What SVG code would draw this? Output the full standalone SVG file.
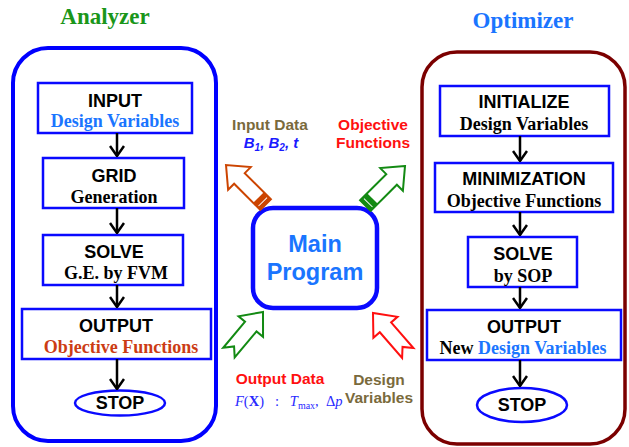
<svg xmlns="http://www.w3.org/2000/svg" width="629" height="447" viewBox="0 0 629 447">
  <defs>
    <style>
      .sans { font-family: "Liberation Sans", Arial, sans-serif; font-weight: bold; }
      .serif { font-family: "Liberation Serif", "Times New Roman", serif; font-weight: bold; }
      .step { fill: #ffffff; stroke: #0a0aff; stroke-width: 2.5; }
      .head { font-size: 18px; fill: #000000; text-anchor: middle; }
      .sub { font-size: 18px; fill: #000000; text-anchor: middle; }
      .flow { stroke: #000000; stroke-width: 2.5; fill: none; marker-end: url(#chev); }
      .lbl { font-size: 15.5px; text-anchor: middle; }
    </style>
    <marker id="chev" viewBox="0 0 12 16" refX="11" refY="8" markerWidth="12" markerHeight="16" markerUnits="userSpaceOnUse" orient="auto">
      <path d="M1,1 L11,8 L1,15" fill="none" stroke="#000000" stroke-width="2.5"/>
    </marker>
    <!-- hollow arrow with banded tail, tip at origin, pointing +x -->
    <g id="bandArrow">
      <polygon points="0,0 -19,-16 -19,-7.5 -56,-7.5 -56,7.5 -19,7.5 -19,16" fill="#ffffff" stroke-width="2" stroke-linejoin="miter"/>
      <rect x="-56" y="-7.5" width="10" height="15" stroke="none"/>
      <line x1="-52" y1="-6" x2="-52" y2="6" stroke="#ffffff" stroke-width="1"/>
    </g>
    <!-- hollow arrow with notched tail, tip at origin, pointing +x -->
    <polygon id="notchArrow" points="0,0 -19,-16 -19,-7.5 -53,-7.5 -45,0 -53,7.5 -19,7.5 -19,16" fill="#ffffff" stroke-width="2" stroke-linejoin="miter"/>
  </defs>

  <rect width="629" height="447" fill="#ffffff"/>

  <!-- Analyzer -->
  <g id="analyzer">
    <text class="serif" x="105" y="24" font-size="23" fill="#1a961a" text-anchor="middle">Analyzer</text>
    <rect x="13" y="48" width="203" height="393" rx="35" fill="none" stroke="#0000ff" stroke-width="4"/>
  </g>
  <g id="a-input">
    <rect class="step" x="38" y="83" width="154" height="50"/>
    <text class="sans head" x="115" y="107">INPUT</text>
    <text class="serif sub" x="115" y="127" style="fill:#1a75ff">Design Variables</text>
  </g>
  <g id="a-grid">
    <rect class="step" x="43" y="158" width="141" height="50"/>
    <text class="sans head" x="114" y="182">GRID</text>
    <text class="serif sub" x="114" y="203">Generation</text>
  </g>
  <g id="a-solve">
    <rect class="step" x="43" y="235" width="140" height="50"/>
    <text class="sans head" x="114" y="258">SOLVE</text>
    <text class="serif sub" x="116" y="279">G.E. by FVM</text>
  </g>
  <g id="a-output">
    <rect class="step" x="22" y="309" width="189" height="50"/>
    <text class="sans head" x="116" y="332">OUTPUT</text>
    <text class="serif sub" x="121" y="353" style="fill:#cc3c14">Objective Functions</text>
  </g>
  <g id="a-stop">
    <ellipse cx="120" cy="403" rx="45" ry="12.5" fill="#ffffff" stroke="#0a0aff" stroke-width="2.5"/>
    <text class="sans head" x="120" y="409">STOP</text>
  </g>

  <!-- Optimizer -->
  <g id="optimizer">
    <text class="serif" x="523" y="28" font-size="23" fill="#1a75ff" text-anchor="middle">Optimizer</text>
    <rect x="422" y="52" width="203" height="392" rx="35" fill="none" stroke="#7b0000" stroke-width="3.5"/>
  </g>
  <g id="o-init">
    <rect class="step" x="440" y="86" width="169" height="50"/>
    <text class="sans head" x="524" y="108">INITIALIZE</text>
    <text class="serif sub" x="524" y="130">Design Variables</text>
  </g>
  <g id="o-min">
    <rect class="step" x="435" y="163" width="178" height="49"/>
    <text class="sans head" x="524" y="185">MINIMIZATION</text>
    <text class="serif sub" x="524" y="207">Objective Functions</text>
  </g>
  <g id="o-solve">
    <rect class="step" x="468" y="237" width="109" height="50"/>
    <text class="sans head" x="523" y="260">SOLVE</text>
    <text class="serif sub" x="523" y="282">by SOP</text>
  </g>
  <g id="o-output">
    <rect class="step" x="427" y="310" width="194" height="50"/>
    <text class="sans head" x="524" y="333">OUTPUT</text>
    <text class="serif sub" x="523" y="354">New <tspan style="fill:#1a75ff">Design Variables</tspan></text>
  </g>
  <g id="o-stop">
    <ellipse cx="522" cy="405" rx="45" ry="17" fill="#ffffff" stroke="#0a0aff" stroke-width="2.5"/>
    <text class="sans head" x="522" y="411">STOP</text>
  </g>

  <!-- Main program -->
  <g id="main">
    <rect x="253" y="208" width="124" height="100" rx="20" fill="#ffffff" stroke="#0a0aff" stroke-width="4.5"/>
    <text class="sans" x="315" y="252" font-size="23.5" fill="#1a75ff" text-anchor="middle">Main</text>
    <text class="sans" x="315" y="280" font-size="23.5" fill="#1a75ff" text-anchor="middle">Program</text>
  </g>

  <!-- Data labels -->
  <g id="lbl-input">
    <text class="sans lbl" x="270" y="130" fill="#7a6a3c">Input Data</text>
    <text class="sans" x="271" y="148" font-size="15" font-style="italic" fill="#1a1aff" text-anchor="middle">B<tspan font-size="10" dy="3">1</tspan><tspan dy="-3">, B</tspan><tspan font-size="10" dy="3">2</tspan><tspan dy="-3">, t</tspan></text>
  </g>
  <g id="lbl-objective">
    <text class="sans lbl" x="373" y="130" fill="#ff1010">Objective</text>
    <text class="sans lbl" x="373" y="148" fill="#ff1010">Functions</text>
  </g>
  <g id="lbl-output">
    <text class="sans lbl" x="280" y="384" fill="#ff1010">Output Data</text>
    <text x="235" y="406" xml:space="preserve" font-family="'Liberation Serif', 'Times New Roman', serif" font-size="14.5" fill="#2a2aff"><tspan font-style="italic">F</tspan>(<tspan font-weight="bold">X</tspan>)   :   <tspan font-style="italic">T</tspan><tspan font-size="10" dy="3">max</tspan><tspan dy="-3">,  Δ</tspan><tspan font-style="italic">p</tspan></text>
  </g>
  <g id="lbl-design">
    <text class="sans lbl" x="379" y="385" fill="#7a6a3c">Design</text>
    <text class="sans lbl" x="379" y="403" fill="#7a6a3c">Variables</text>
  </g>

  <!-- Connectors -->
  <g id="connectors">
    <line class="flow" x1="117" y1="133" x2="117" y2="156"/>
    <line class="flow" x1="117" y1="208" x2="117" y2="233"/>
    <line class="flow" x1="117" y1="285" x2="117" y2="307"/>
    <line class="flow" x1="117" y1="359" x2="117" y2="389"/>
    <line class="flow" x1="520" y1="136" x2="520" y2="161"/>
    <line class="flow" x1="520" y1="212" x2="520" y2="235"/>
    <line class="flow" x1="520" y1="287" x2="520" y2="308"/>
    <line class="flow" x1="520" y1="360" x2="520" y2="386"/>

    <use href="#bandArrow" transform="translate(226,165) rotate(-135)" fill="#cc4400" stroke="#cc4400"/>
    <use href="#bandArrow" transform="translate(405,166) rotate(-45)" fill="#138a13" stroke="#138a13"/>
    <use href="#notchArrow" transform="translate(263,312) rotate(-50)" stroke="#138a13"/>
    <use href="#notchArrow" transform="translate(373,313) rotate(-131)" stroke="#ff1010"/>
  </g>
</svg>
